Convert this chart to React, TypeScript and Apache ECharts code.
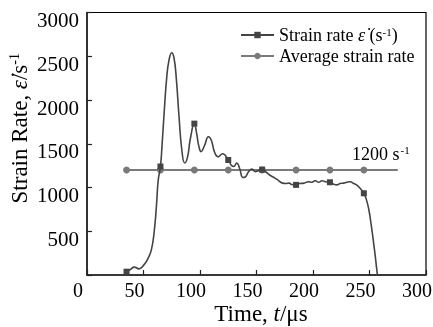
import React, { useEffect, useRef } from "react";
import * as echarts from "echarts";

// Strain-rate curve (time in µs, strain rate in 1/s)
const strainTime = [
  35, 38, 42, 46, 50, 54, 57, 59.5, 61.5, 63,
  65, 66.5, 68.5, 70.5, 72.5, 75, 77, 79, 81.5, 84,
  86.5, 89, 91.5, 95, 97, 99, 101, 104, 107.5, 110,
  113, 116, 120, 125, 128, 130, 132.5, 135, 138, 140,
  143, 146, 149, 151, 155, 158, 162, 166, 169, 173,
  176, 179, 181, 185, 188, 192, 196, 199, 202, 205,
  208, 211, 215, 218, 221, 224, 227, 230, 233, 236,
  238.5, 241, 245, 247.5, 249.5, 251, 252.5, 254, 255.5, 257,
  258,
];
const strainRate = [
  38, 60, 90, 70, 110, 190, 290, 500, 800, 1080,
  1240, 1500, 1900, 2250, 2450, 2540, 2480, 2250, 1800, 1420,
  1280, 1350, 1560, 1730, 1620, 1470, 1410, 1480, 1580, 1540,
  1400, 1350, 1385, 1314, 1250, 1240, 1280, 1220, 1115, 1120,
  1180, 1210, 1180, 1190, 1205, 1180, 1140, 1110, 1085, 1050,
  1045, 1050, 1035, 1030, 1045, 1050, 1065, 1060, 1078, 1060,
  1078, 1065, 1060, 1040, 1030, 1045, 1050, 1060, 1065, 1045,
  1030, 1000, 934, 850, 740, 620, 480, 330, 170, 0,
  -100,
];
const markerTimes = [35, 65, 95, 125, 155, 185, 215, 245];

// Average strain rate line
const avgTime = [35, 65, 95, 125, 155, 185, 215, 245, 275];
const avgRate = 1200;
const avgLabelTime = 245;

const xTicks = { min: 0, max: 300, interval: 50 };
const yTicks = { min: 0, max: 3000, interval: 500 };

const FONT = "'Liberation Serif', 'Times New Roman', serif";

export default function App() {
  const ref = useRef<HTMLDivElement>(null);
  useEffect(() => {
    if (!ref.current) return;
    const chart = echarts.init(ref.current, null, { renderer: "svg" });

    const strainData = strainTime.map((t, i) => ({
      value: [t, strainRate[i]],
      symbol: markerTimes.includes(t) ? "rect" : "none",
    }));
    const avgData = avgTime.map((t, i) => {
      const last = i === avgTime.length - 1;
      const item: any = { value: [t, avgRate], symbol: last ? "none" : "circle" };
      if (t === avgLabelTime) {
        item.label = {
          show: true,
          position: "top",
          offset: [17, 1],
          formatter: `{n|${avgRate} s}{sup|-1}`,
          rich: {
            n: { fontFamily: FONT, fontSize: 18, color: "#000", lineHeight: 18 },
            sup: { fontFamily: FONT, fontSize: 11, color: "#000", verticalAlign: "top", lineHeight: 18, padding: [0, 0, 8, 1] },
          },
        };
      }
      return item;
    });

    const axisLine = { lineStyle: { color: "#222", width: 1.5 } };
    chart.setOption({
      animation: false,
      textStyle: { fontFamily: FONT },
      grid: {
        left: 87,
        right: 7,
        top: 12.5,
        bottom: 52,
        containLabel: false,
        outerBoundsMode: "none",
        show: true,
        borderColor: "#000",
        borderWidth: 1.2,
      },
      legend: {
        orient: "vertical",
        left: 235,
        top: 21,
        itemWidth: 33,
        itemHeight: 8,
        itemGap: 2,
        textStyle: {
          fontFamily: FONT,
          fontSize: 18,
          color: "#000",
          lineHeight: 18,
          rich: {
            n: { fontFamily: FONT, fontSize: 18, color: "#000", lineHeight: 18 },
            i: { fontFamily: FONT, fontSize: 18, color: "#000", fontStyle: "italic", lineHeight: 18 },
            sup: { fontFamily: FONT, fontSize: 11, color: "#000", verticalAlign: "top", lineHeight: 18, padding: [0, 0, 8, 0] },
          },
        },
        formatter: (name: string) =>
          name === "Strain rate"
            ? "{n|Strain rate }{i|ε\u0307}{n|\u00a0(s}{sup|-1}{n|)}"
            : `{n|${name}}`,
        data: ["Strain rate", "Average strain rate"],
      },
      xAxis: {
        type: "value",
        min: xTicks.min,
        max: xTicks.max,
        interval: xTicks.interval,
        axisLine,
        axisTick: { inside: true, length: 5, lineStyle: { color: "#222", width: 1.2 } },
        splitLine: { show: false },
        axisLabel: {
          fontFamily: FONT,
          fontSize: 20,
          color: "#000",
          margin: 6,
          lineHeight: 18,
          padding: [0, 18, 0, 0],
        },
        name: "{n|Time, }{i|t}{n|/μs}",
        nameLocation: "middle",
        nameGap: 28,
        nameMoveOverlap: false,
        nameTextStyle: {
          padding: [0, 0, 0, 9],
          rich: {
            n: { fontFamily: FONT, fontSize: 23, color: "#000", lineHeight: 20 },
            i: { fontFamily: FONT, fontSize: 23, color: "#000", fontStyle: "italic", lineHeight: 20 },
          },
        },
      },
      yAxis: {
        type: "value",
        min: yTicks.min,
        max: yTicks.max,
        interval: yTicks.interval,
        axisLine,
        axisTick: { inside: true, length: 5, lineStyle: { color: "#222", width: 1.2 } },
        splitLine: { show: false },
        axisLabel: {
          fontFamily: FONT,
          fontSize: 21,
          color: "#000",
          margin: 8,
          verticalAlign: "top",
          lineHeight: 15,
          formatter: (v: number) => (v === 0 ? "" : String(v)),
        },
        name: "{n|Strain Rate, }{i|ε\u0307}{n|/s}{sup|-1}",
        nameLocation: "middle",
        nameGap: 56,
        nameMoveOverlap: false,
        nameTextStyle: {
          padding: [0, 0, 0, 31],
          rich: {
            n: { fontFamily: FONT, fontSize: 23, color: "#000", lineHeight: 24 },
            i: { fontFamily: FONT, fontSize: 23, color: "#000", fontStyle: "italic", lineHeight: 24 },
            sup: { fontFamily: FONT, fontSize: 14, color: "#000", verticalAlign: "top", lineHeight: 24, padding: [0, 0, 10, 0] },
          },
        },
      },
      series: [
        {
          name: "Strain rate",
          type: "line",
          data: strainData,
          symbol: "rect",
          symbolSize: 6,
          showAllSymbol: true,
          smooth: 0.5,
          clip: true,
          lineStyle: { color: "#444", width: 1.6 },
          itemStyle: { color: "#444" },
          z: 3,
        },
        {
          name: "Average strain rate",
          type: "line",
          data: avgData,
          symbol: "circle",
          symbolSize: 7,
          showAllSymbol: true,
          lineStyle: { color: "#7a7a7a", width: 1.8 },
          itemStyle: { color: "#7a7a7a" },
          z: 2,
        },
      ],
    });
    return () => chart.dispose();
  }, []);
  return (
    <div
      ref={ref}
      style={{ position: "fixed", left: 0, top: 0, width: 433, height: 327 }}
    />
  );
}
